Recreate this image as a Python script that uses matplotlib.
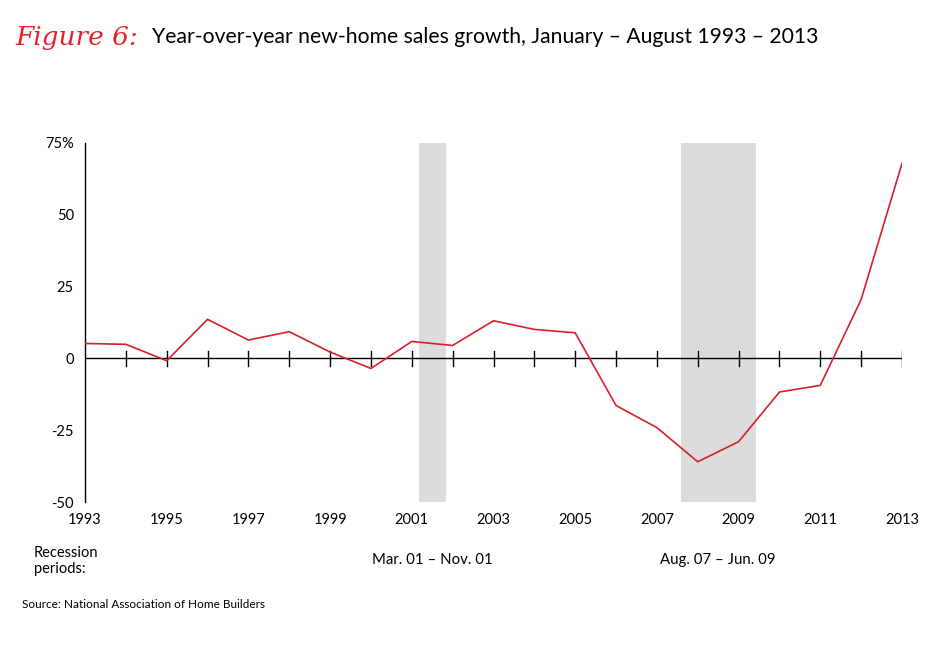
import numpy as np
import matplotlib
matplotlib.use("Agg")
import matplotlib.pyplot as plt

plt.rcParams["font.family"] = ["Lato", "DejaVu Sans"]

years = list(range(1993, 2014))
growth = [5.2, 4.9, -0.8, 13.6, 6.4, 9.3, 2.2, -3.5, 5.9, 4.5,
          13.1, 10.1, 8.9, -16.4, -24.1, -36.0, -29.0, -11.7, -9.4, 20.5, 67.9]
recessions = [(2001 + 2 / 12, 2001 + 10 / 12), (2007 + 7 / 12, 2009 + 5 / 12)]
recession_labels = ["Mar. 01 \u2013 Nov. 01", "Aug. 07 \u2013 Jun. 09"]
y_ticks = [-50, -25, 0, 25, 50, 75]
y_labels = ["-50", "-25", "0", "25", "50", "75%"]

fig = plt.figure(figsize=(9.5, 6.45), dpi=100)
ax = fig.add_axes([85 / 950, 1 - 502 / 645, (902 - 85) / 950, (502 - 143) / 645])

for start, end in recessions:
    ax.axvspan(start, end, color="#dcdcdc", lw=0, zorder=0)

ax.plot(years, growth, color="#d9202a", lw=1.2, zorder=3)

# zero line with crossing ticks for every year
ax.axhline(0, color="black", lw=1.0, zorder=2)
for yr in years[1:]:
    ax.plot([yr, yr], [-2.5, 2.5], color="black", lw=1.0, zorder=2)

ax.set_xlim(1993, 2013)
ax.set_ylim(-50, 75)
ax.spines["top"].set_visible(False)
ax.spines["right"].set_visible(False)
ax.spines["bottom"].set_visible(False)
ax.spines["left"].set_linewidth(1.0)

ax.set_xticks(years[::2])
ax.set_xticklabels([str(y) for y in years[::2]], fontsize=10.5)
ax.set_yticks(y_ticks)
ax.set_yticklabels(y_labels, fontsize=10.5)
ax.tick_params(axis="both", length=0, pad=8)
ax.tick_params(axis="x", pad=8)

# title
fig.text(15 / 950, 1 - 37 / 645, "Figure 6:", color="#e8202a", fontsize=19,
         style="italic", family=["DejaVu Serif"], va="center", ha="left")
fig.text(152 / 950, 1 - 37 / 645,
         "Year-over-year new-home sales growth, January \u2013 August 1993 \u2013 2013",
         fontsize=15.2, va="center", ha="left")

# recession labels
fig.text(34 / 950, 1 - 561 / 645, "Recession\nperiods:", fontsize=10.5,
         va="center", ha="left", linespacing=1.1)
for (start, end), lab in zip(recessions, recession_labels):
    fig.text(85 / 950 + ((start + end) / 2 - 1993) * (817 / 20) / 950, 1 - 560 / 645, lab,
             fontsize=10.8, va="center", ha="center")

fig.text(22 / 950, 1 - 605 / 645, "Source: National Association of Home Builders",
         fontsize=8.5, va="center", ha="left")

fig.savefig("out.png", dpi=100)
